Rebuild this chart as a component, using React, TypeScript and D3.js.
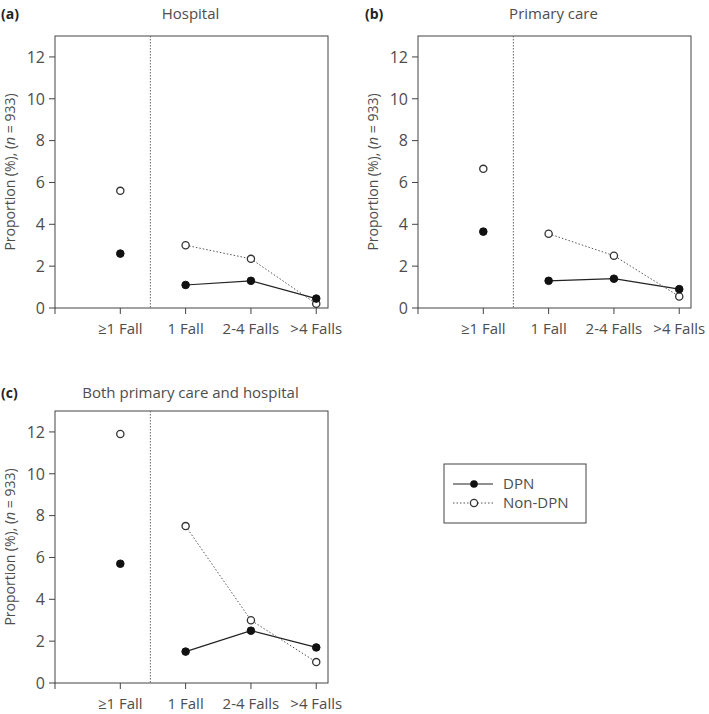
import React from "react";
import * as d3 from "d3";

const categories = ["≥1 Fall", "1 Fall", "2-4 Falls", ">4 Falls"];
const yTicks = [0, 2, 4, 6, 8, 10, 12];

const hospitalDPN = [2.6, 1.1, 1.3, 0.45];
const hospitalNonDPN = [5.6, 3.0, 2.35, 0.2];
const primaryDPN = [3.65, 1.3, 1.4, 0.9];
const primaryNonDPN = [6.65, 3.55, 2.5, 0.55];
const bothDPN = [5.7, 1.5, 2.5, 1.7];
const bothNonDPN = [11.9, 7.5, 3.0, 1.0];

const panelTitles = ["Hospital", "Primary care", "Both primary care and hospital"];
const panelLetters = ["(a)", "(b)", "(c)"];
const legendLabels = ["DPN", "Non-DPN"];

const FONT = "'Open Sans', 'Noto Sans', sans-serif";
const TXT = "#4d4d4d";
const AX = "#444";

type PanelProps = {
  left: number;
  top: number;
  letter: string;
  title: string;
  letterX: number;
  titleY: number;
  dpn: number[];
  non: number[];
};

function Panel({ left, top, letter, title, letterX, titleY, dpn, non }: PanelProps) {
  const w = 273;
  const h = 272;
  const x = d3.scaleLinear().domain([-1, 3.18]).range([left, left + w]);
  const y = d3.scaleLinear().domain([0, 13]).range([top + h, top]);
  const bottom = top + h;
  const idx = [1, 2, 3];
  const dpnPath = d3
    .line<number>()
    .x((i) => x(i))
    .y((i) => y(dpn[i]))(idx);
  const nonPath = d3
    .line<number>()
    .x((i) => x(i))
    .y((i) => y(non[i]))(idx);
  return (
    <g>
      <text x={letterX} y={titleY} fontFamily={FONT} fontWeight="bold" fontSize={14} fill="#222">
        {letter}
      </text>
      <text x={left + w / 2 - 1} y={titleY} textAnchor="middle" fontFamily={FONT} fontSize={15} fill={TXT}>
        {title}
      </text>
      <rect x={left} y={top} width={w} height={h} fill="none" stroke={AX} strokeWidth={1} />
      <line x1={x(0.46)} x2={x(0.46)} y1={top} y2={bottom} stroke="#666" strokeWidth={1} strokeDasharray="1.5,1.5" />
      {yTicks.map((t) => (
        <g key={t}>
          <line x1={left - 6} x2={left} y1={y(t)} y2={y(t)} stroke={AX} />
          <text x={left - 10} y={y(t)} dy="0.36em" textAnchor="end" fontFamily={FONT} fontSize={16} fill={TXT}>
            {t}
          </text>
        </g>
      ))}
      <line x1={left} x2={left} y1={bottom} y2={bottom + 6} stroke={AX} />
      {categories.map((c, i) => (
        <g key={c}>
          <line x1={x(i)} x2={x(i)} y1={bottom} y2={bottom + 6} stroke={AX} />
          <text x={x(i)} y={bottom + 26} textAnchor="middle" fontFamily={FONT} fontSize={15} fill={TXT}>
            {c}
          </text>
        </g>
      ))}
      <text
        transform={`translate(${left - 40},${top + h / 2}) rotate(-90)`}
        textAnchor="middle"
        fontFamily={FONT}
        fontSize={14}
        fill={TXT}
      >
        Proportion (%), (<tspan fontStyle="italic">n</tspan> = 933)
      </text>
      <path d={dpnPath || ""} fill="none" stroke="#222" strokeWidth={1.2} />
      <path d={nonPath || ""} fill="none" stroke="#555" strokeWidth={1} strokeDasharray="1.5,2" />
      {non.map((v, i) => (
        <circle key={"n" + i} cx={x(i)} cy={y(v)} r={3.6} fill="#fff" stroke="#333" strokeWidth={1.3} />
      ))}
      {dpn.map((v, i) => (
        <circle key={"d" + i} cx={x(i)} cy={y(v)} r={3.8} fill="#111" stroke="#111" strokeWidth={1} />
      ))}
    </g>
  );
}

export default function App() {
  return (
    <svg
      width={709}
      height={714}
      style={{ position: "absolute", left: 0, top: 0, background: "#fff" }}
    >
      <rect width={709} height={714} fill="#fff" />
      <Panel left={55} top={36} letter={panelLetters[0]} title={panelTitles[0]} letterX={1} titleY={19} dpn={hospitalDPN} non={hospitalNonDPN} />
      <Panel left={418} top={36} letter={panelLetters[1]} title={panelTitles[1]} letterX={365} titleY={19} dpn={primaryDPN} non={primaryNonDPN} />
      <Panel left={55} top={411} letter={panelLetters[2]} title={panelTitles[2]} letterX={1} titleY={398} dpn={bothDPN} non={bothNonDPN} />
      <g>
        <rect x={444} y={464} width={142} height={59} fill="#fff" stroke={AX} strokeWidth={1} />
        <line x1={453} x2={493} y1={484} y2={484} stroke="#222" strokeWidth={1.2} />
        <circle cx={474} cy={484} r={3.8} fill="#111" />
        <text x={503} y={484} dy="0.36em" fontFamily={FONT} fontSize={15} fill={TXT}>
          {legendLabels[0]}
        </text>
        <line x1={453} x2={493} y1={503} y2={503} stroke="#555" strokeWidth={1} strokeDasharray="1.5,2" />
        <circle cx={474} cy={503} r={3.6} fill="#fff" stroke="#333" strokeWidth={1.3} />
        <text x={503} y={503} dy="0.36em" fontFamily={FONT} fontSize={15} fill={TXT}>
          {legendLabels[1]}
        </text>
      </g>
    </svg>
  );
}
